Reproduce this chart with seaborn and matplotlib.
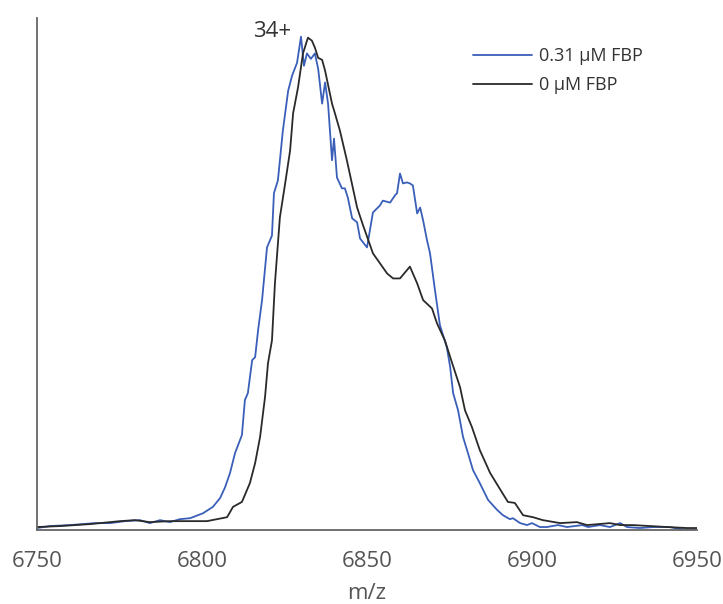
import numpy as np
import pandas as pd
import matplotlib
matplotlib.use("Agg")
import matplotlib.pyplot as plt
import seaborn as sns

# ── data (m/z, relative intensity) ──
mz_fbp = [6750.0, 6753.9, 6760.0, 6767.6, 6772.1, 6776.7, 6781.2, 6784.2, 6787.3, 6790.3,
          6793.3, 6796.4, 6800.3, 6803.3, 6805.5, 6807.0, 6808.5, 6810.0, 6812.1, 6813.0,
          6813.9, 6815.2, 6816.1, 6817.0, 6818.2, 6819.7, 6821.2, 6821.8, 6823.0, 6824.5,
          6826.1, 6827.3, 6828.8, 6830.0, 6830.9, 6831.8, 6833.0, 6834.2, 6835.2, 6836.4,
          6837.3, 6838.2, 6839.4, 6840.0, 6840.9, 6842.4, 6843.3, 6844.2, 6845.5, 6847.0,
          6847.9, 6850.0, 6851.8, 6853.9, 6854.8, 6857.0, 6858.5, 6859.1, 6860.0, 6860.9,
          6862.1, 6863.0, 6863.9, 6865.2, 6866.1, 6867.0, 6868.2, 6869.1, 6870.6, 6872.1,
          6874.2, 6875.2, 6876.1, 6877.6, 6879.1, 6880.6, 6882.1, 6884.2, 6886.7, 6889.4,
          6891.2, 6893.3, 6894.2, 6896.4, 6898.5, 6900.0, 6902.4, 6904.5, 6907.9, 6910.6,
          6915.2, 6917.0, 6920.6, 6923.6, 6926.7, 6928.8, 6932.7, 6936.7, 6941.8, 6944.8,
          6947.9, 6950.0]
int_fbp = [0.4, 0.8, 1.0, 1.4, 1.4, 1.8, 2.0, 1.4, 2.0, 1.6,
           2.2, 2.4, 3.4, 4.7, 6.5, 8.7, 11.6, 15.6, 19.3, 26.4,
           27.8, 34.5, 35.1, 40.6, 46.7, 57.4, 59.8, 68.4, 71.0, 81.1,
           89.2, 92.3, 94.9, 100.2, 94.3, 96.8, 95.7, 96.8, 93.7, 86.6,
           90.9, 86.6, 75.1, 79.5, 71.6, 69.4, 69.4, 67.5, 63.3, 62.5,
           59.2, 57.4, 64.5, 65.9, 66.9, 66.5, 68.0, 68.4, 72.4, 70.4,
           70.6, 70.4, 70.0, 64.3, 65.5, 62.9, 58.8, 56.2, 48.7, 41.6,
           37.1, 33.1, 27.8, 24.3, 18.9, 15.6, 12.2, 9.5, 6.1, 4.1,
           3.0, 2.2, 2.4, 1.4, 1.0, 1.4, 0.6, 0.6, 1.0, 0.6,
           1.0, 0.6, 1.0, 0.6, 1.4, 0.6, 0.4, 0.6, 0.6, 0.2,
           0.0, 0.0]

mz_ctrl = [6750.0, 6757.0, 6766.1, 6775.2, 6779.7, 6784.2, 6790.3, 6794.8, 6801.5, 6807.6,
           6809.4, 6812.1, 6814.5, 6816.1, 6817.6, 6819.1, 6820.0, 6821.2, 6822.1, 6823.6,
           6825.2, 6826.7, 6827.6, 6829.1, 6830.6, 6832.1, 6833.3, 6834.2, 6835.2, 6836.4,
           6837.3, 6839.4, 6840.3, 6841.8, 6843.9, 6847.0, 6848.8, 6851.8, 6856.1, 6857.9,
           6860.0, 6863.0, 6865.2, 6867.0, 6869.7, 6871.2, 6873.6, 6875.8, 6878.2, 6879.7,
           6881.8, 6884.2, 6887.3, 6890.3, 6892.7, 6894.8, 6897.3, 6900.3, 6903.3, 6908.5,
           6913.6, 6916.7, 6923.6, 6926.7, 6930.6, 6935.8, 6940.9, 6947.0, 6950.0]
int_ctrl = [0.6, 0.8, 1.2, 1.8, 2.0, 1.6, 1.8, 1.8, 1.8, 2.6,
            4.7, 5.7, 9.5, 13.6, 18.9, 27.0, 33.9, 38.5, 50.1, 63.5,
            70.4, 77.1, 84.6, 89.9, 96.8, 100.0, 99.4, 98.0, 95.9, 95.5,
            93.3, 86.6, 84.6, 81.1, 75.1, 65.5, 61.9, 56.2, 52.1, 51.1,
            51.1, 53.5, 50.1, 46.7, 45.0, 42.0, 38.5, 33.9, 29.0, 24.3,
            20.9, 16.2, 11.6, 8.3, 5.7, 5.5, 3.0, 2.6, 2.0, 1.4,
            1.6, 1.0, 1.4, 1.0, 1.0, 0.8, 0.6, 0.4, 0.4]

labels = ["0.31 \u00b5M FBP", "0 \u00b5M FBP"]
colors = ["#3a5fb8", "#2a2a2a"]
x_ticks = [6750, 6800, 6850, 6900, 6950]

sns.set_style("white")
plt.rcParams["font.family"] = ["Open Sans", "DejaVu Sans"]

fig = plt.figure(figsize=(7.23, 6.04), dpi=100)
ax = fig.add_axes([37 / 723, 1 - 530 / 604, 660 / 723, 512 / 604])

sns.lineplot(x=mz_fbp, y=int_fbp, ax=ax, color=colors[0], lw=1.3, label=labels[0])
sns.lineplot(x=mz_ctrl, y=int_ctrl, ax=ax, color=colors[1], lw=1.3, label=labels[1])

ax.set_xlim(6750, 6950)
ax.set_ylim(0, 104)
ax.set_xticks(x_ticks)
ax.set_yticks([])
ax.tick_params(axis="x", direction="in", length=5, width=1.2, colors="#666666",
               labelcolor="#555555", labelsize=16, pad=15)
for side in ["top", "right"]:
    ax.spines[side].set_visible(False)
for side in ["left", "bottom"]:
    ax.spines[side].set_color("#666666")
    ax.spines[side].set_linewidth(1.3)

ax.set_xlabel("m/z", fontsize=16, color="#555555", labelpad=8)
ax.set_ylabel("")

ax.text(6821.2, 101.2, "34+", ha="center", va="center", fontsize=16, color="#333333")

leg = ax.legend(loc="upper right", bbox_to_anchor=(0.943, 0.975), frameon=False,
                fontsize=13, handlelength=3.3, handletextpad=0.4, labelspacing=0.6)
for t in leg.get_texts():
    t.set_color("#333333")

fig.savefig("out.png", dpi=100)
